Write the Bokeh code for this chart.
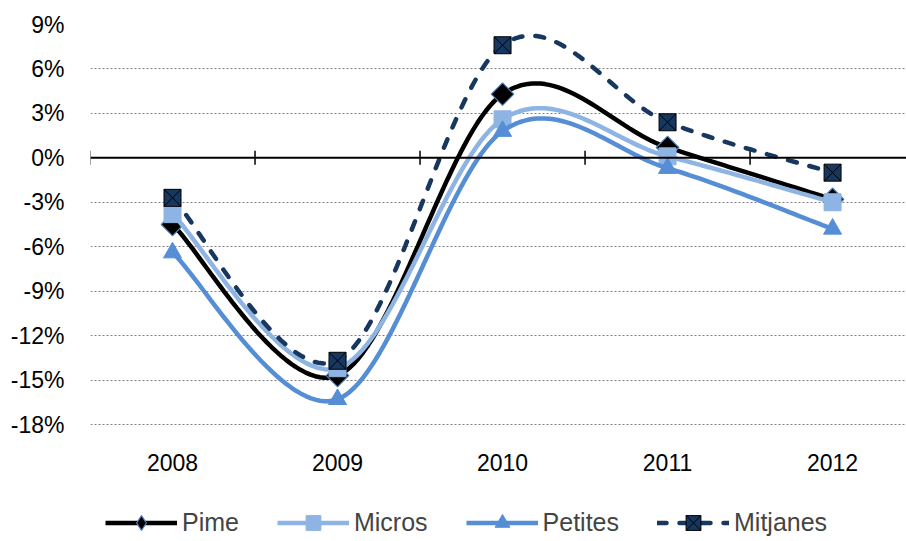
import numpy as np
from bokeh.plotting import figure
from bokeh.models import (FixedTicker, PrintfTickFormatter, Span, Legend, LegendItem)
from bokeh.core.properties import value
from bokeh.embed import file_html
from bokeh.resources import INLINE

years = ["2008", "2009", "2010", "2011", "2012"]
pime = [-4.5, -14.7, 4.3, 0.7, -2.8]
micros = [-3.8, -14.2, 2.6, 0.1, -3.0]
petites = [-6.4, -16.3, 1.8, -0.7, -4.8]
mitjanes = [-2.7, -13.7, 7.6, 2.4, -1.0]
yticks = [-18, -15, -12, -9, -6, -3, 0, 3, 6, 9]

FONT = "Liberation Sans"
FS = "23px"

xs = np.arange(len(years), dtype=float)

# layout: 400px of frame hold the 27-point tick span; frame continues to the page bottom
FRAME_H = 517
YMAX = 9
YSPAN = 27
YMIN = YMAX - YSPAN * FRAME_H / 400.0
PX = 400.0 / YSPAN  # pixels per percentage point
LABEL_Y = YMAX - (462 - 24) / PX  # baseline of category labels


def smooth(x, y, n=40):
    """Excel-like smoothed line (Catmull-Rom Bezier, tension 1/6)."""
    P = np.column_stack([x, y]).astype(float)
    out = []
    for i in range(len(P) - 1):
        p0 = P[i - 1] if i > 0 else P[i]
        p1 = P[i]
        p2 = P[i + 1]
        p3 = P[i + 2] if i + 2 < len(P) else P[i + 1]
        c1 = p1 + (p2 - p0) / 6.0
        c2 = p2 - (p3 - p1) / 6.0
        t = np.linspace(0, 1, n)[:, None]
        seg = ((1 - t) ** 3) * p1 + 3 * ((1 - t) ** 2) * t * c1 + 3 * (1 - t) * t ** 2 * c2 + t ** 3 * p2
        out.append(seg if i == 0 else seg[1:])
    s = np.vstack(out)
    return s[:, 0], s[:, 1]


p = figure(frame_width=816, frame_height=FRAME_H, output_backend="svg", toolbar_location=None,
           x_range=(-0.497, 4.448), y_range=(YMIN, YMAX), x_axis_location=None,
           min_border_left=90, min_border_right=0, min_border_top=24, min_border_bottom=0,
           background_fill_color="white", border_fill_color="white")
p.outline_line_color = None

# grid
p.xgrid.visible = False
p.ygrid.ticker = FixedTicker(ticks=[t for t in yticks if t != 0])
p.ygrid.grid_line_color = "#808080"
p.ygrid.grid_line_dash = "2 2"
p.ygrid.grid_line_width = 1

# y axis
p.yaxis.ticker = FixedTicker(ticks=yticks)
p.yaxis.formatter = PrintfTickFormatter(format="%d%%")
p.yaxis.axis_line_color = None
p.yaxis.major_tick_line_color = None
p.yaxis.minor_tick_line_color = None
p.yaxis.major_label_standoff = 20
p.yaxis.major_label_text_font = FONT
p.yaxis.major_label_text_font_size = FS
p.yaxis.major_label_text_color = "black"

# category labels under the plot area
p.text(x=list(xs), y=[LABEL_Y] * len(years), text=years, text_align="center",
       text_baseline="alphabetic", text_font=value(FONT), text_font_size=FS, text_color="black")

# zero line with category boundary ticks
p.add_layout(Span(location=0, dimension="width", line_color="black", line_width=2))
bounds = [i - 0.5 for i in range(len(years))]
p.segment(x0=bounds, y0=[-0.47] * len(bounds), x1=bounds, y1=[0.47] * len(bounds),
          line_color="black", line_width=1.5)

series = [
    ("Pime", pime, dict(line_color="black", line_width=4.5),
     dict(marker="square", angle=np.pi / 4, size=16, fill_color="black", line_color="#4F81BD", line_width=1.2),
     dict(marker="diamond", fill_color="black", line_color="#4F81BD", line_width=1.2)),
    ("Micros", micros, dict(line_color="#8EB4E3", line_width=4.5),
     dict(marker="square", size=17, fill_color="#8EB4E3", line_color="#8EB4E3"), None),
    ("Petites", petites, dict(line_color="#558ED5", line_width=4.5),
     dict(marker="triangle", size=18, fill_color="#558ED5", line_color="#558ED5"), None),
    ("Mitjanes", mitjanes, dict(line_color="#17375E", line_width=4.5, line_dash="9 13", line_cap="round"),
     dict(marker="square_x", size=17, fill_color="#17375E", line_color="black", line_width=1), None),
]

items = []
for name, vals, lstyle, mstyle, legstyle in series:
    sx, sy = smooth(xs, vals)
    lr = p.line(sx, sy, **lstyle)
    mr = p.scatter(x=list(xs), y=vals, **mstyle)
    rends = [lr, mr]
    if legstyle is not None:
        proxy = p.scatter(x=list(xs), y=vals, size=20, visible=False, **legstyle)
        rends = [lr, proxy]
    items.append(LegendItem(label=name, renderers=rends))

legend = Legend(items=items, orientation="horizontal", location=(15, 0),
                glyph_width=72, glyph_height=37, label_standoff=5, spacing=38,
                label_text_font=FONT, label_text_font_size="25px",
                border_line_color=None, background_fill_alpha=0,
                padding=0, margin=0)
p.add_layout(legend, "center")

open("out.html", "w").write(file_html(p, INLINE))
